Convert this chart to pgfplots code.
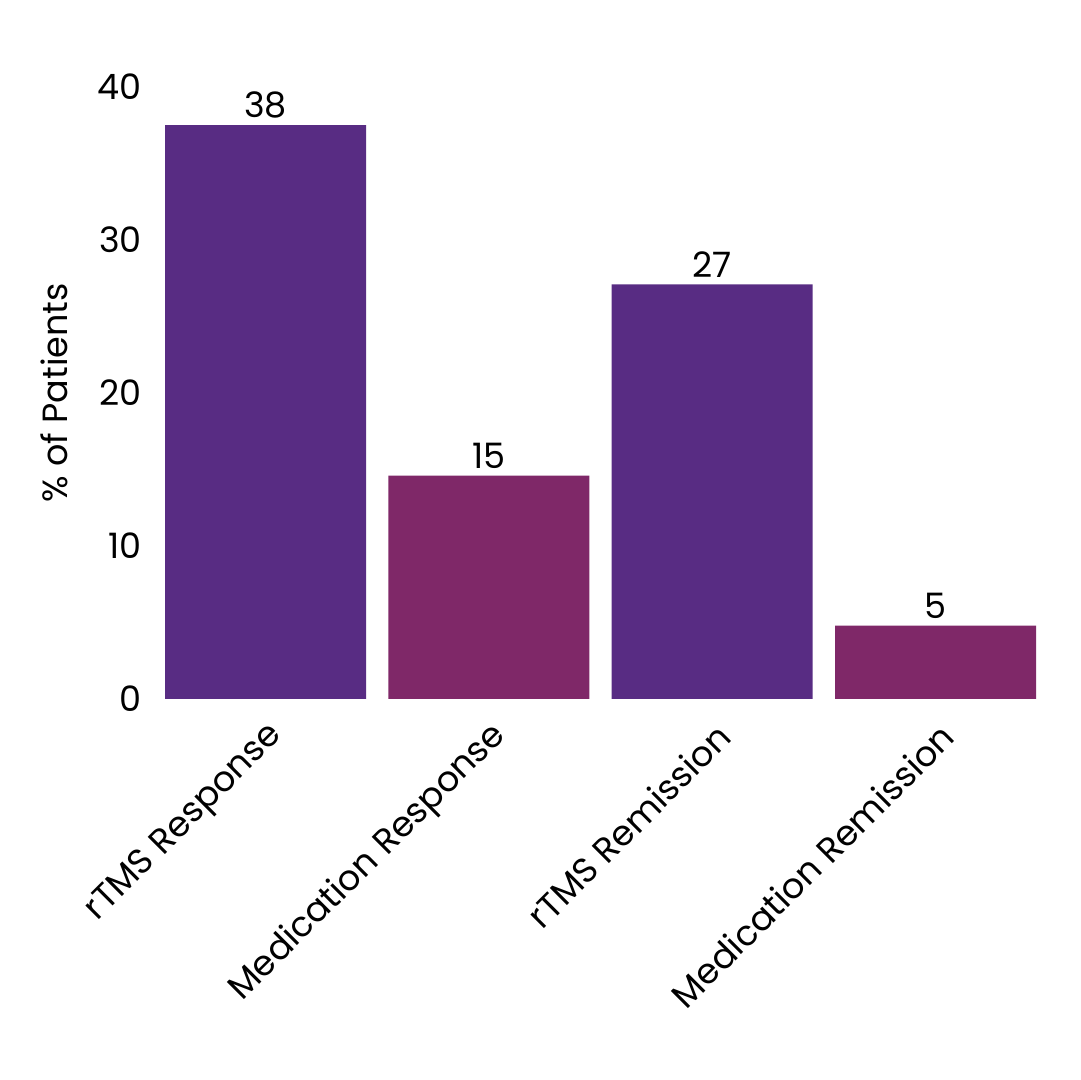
\documentclass[border=0pt]{standalone}
\usepackage{fontspec}
\setmainfont{Poppins}
\usepackage{pgfplots}
\pgfplotsset{compat=1.18}

\definecolor{rtms}{HTML}{582C83}
\definecolor{med}{HTML}{7F2868}

\begin{document}
\begin{tikzpicture}[x=1pt,y=1pt]
\path[use as bounding box] (0,0) rectangle (540,540);
\begin{axis}[
    at={(82.5pt,190.5pt)}, anchor=south west,
    scale only axis,
    width=435.5pt, height=306pt,
    xmin=-0.45, xmax=3.45,
    ymin=0, ymax=40,
    axis line style={draw=none},
    tick style={draw=none},
    ytick={0,10,20,30,40},
    xtick={0,1,2,3},
    xticklabels={rTMS Response, Medication Response, rTMS Remission, Medication Remission},
    tick label style={font=\fontsize{17.5}{20}\selectfont},
    /pgf/number format/assume math mode=true,
    yticklabel style={xshift=-8pt},
    xticklabel style={rotate=45, anchor=east, xshift=-3.4pt, yshift=-15.4pt},
    ylabel={\% of Patients},
    ylabel style={font=\fontsize{17.5}{20}\selectfont, yshift=8pt},
    clip=false,
    nodes near coords,
    point meta=explicit symbolic,
    every node near coord/.style={font=\fontsize{17.5}{20}\selectfont, yshift=0pt},
]
\addplot[ybar, bar width=201pt*0.5, fill=rtms, draw=none] coordinates {
    (0,37.5) [38]
    (2,27.1) [27]
};
\addplot[ybar, bar width=201pt*0.5, fill=med, draw=none] coordinates {
    (1,14.6) [15]
    (3,4.8) [5]
};
\end{axis}
\end{tikzpicture}
\end{document}
